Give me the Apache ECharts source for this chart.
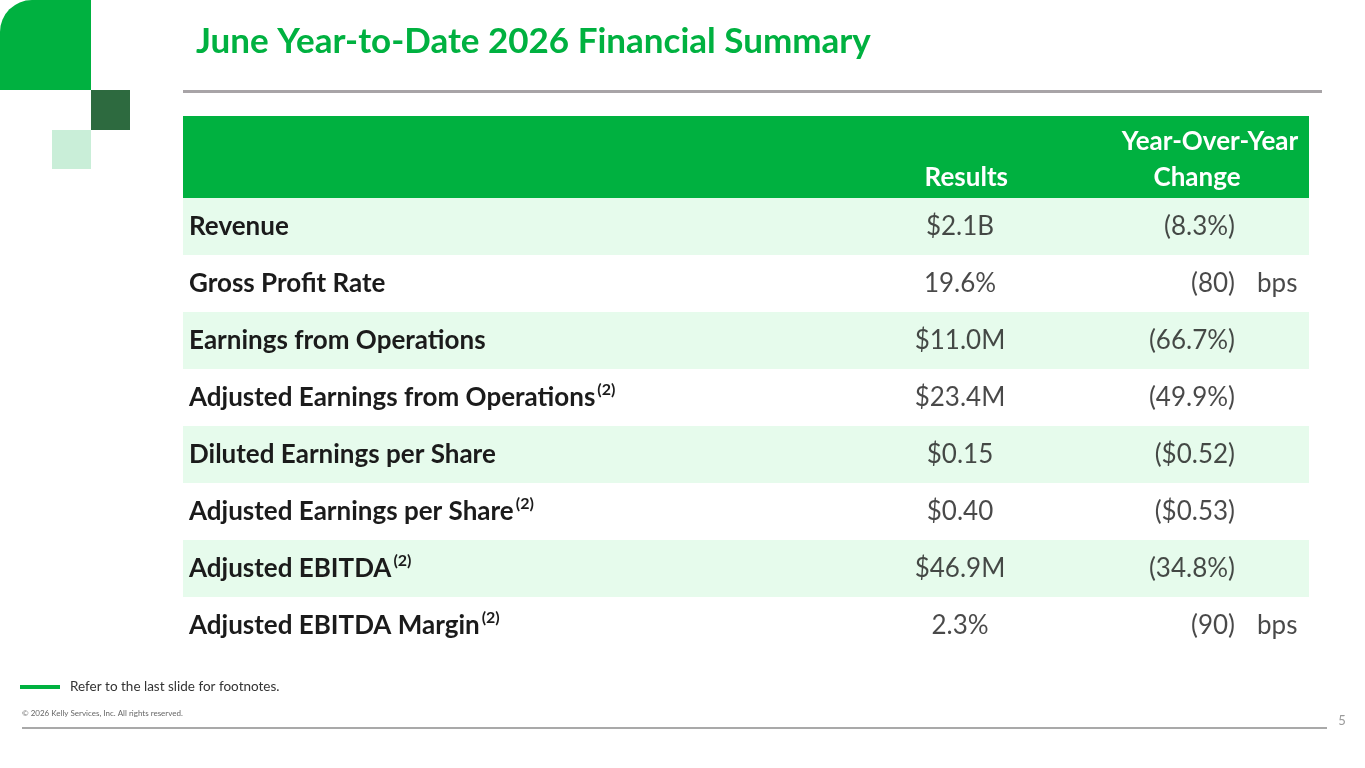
<!DOCTYPE html>
<html>
<head>
<meta charset="utf-8">
<title>June Year-to-Date 2026 Financial Summary</title>
<script src="https://cdn.jsdelivr.net/npm/echarts@6/dist/echarts.min.js"></script>
<style>
html, body { margin: 0; padding: 0; background: #fff; }
#main { width: 1365px; height: 768px; }
</style>
</head>
<body>
<div id="main"></div>
<script>
// table data
var rowNames = ['Revenue', 'Gross Profit Rate', 'Earnings from Operations', 'Adjusted Earnings from Operations',
    'Diluted Earnings per Share', 'Adjusted Earnings per Share', 'Adjusted EBITDA', 'Adjusted EBITDA Margin'];
var rowNotes = ['', '', '', '(2)', '', '(2)', '(2)', '(2)'];
var results = ['$2.1B', '19.6%', '$11.0M', '$23.4M', '$0.15', '$0.40', '$46.9M', '2.3%'];
var changes = ['(8.3%)', '(80)', '(66.7%)', '(49.9%)', '($0.52)', '($0.53)', '(34.8%)', '(90)'];
var units = ['', 'bps', '', '', '', '', '', 'bps'];
var headerResults = 'Results';
var headerChange = ['Year-Over-Year', 'Change'];

var GREEN = '#00b140';
var FONT = 'Lato';
var TEXT = '#1b1b1b';

var myChart = echarts.init(document.getElementById('main'));

// column anchors, in table pixels from the left edge of the table
var RESULT_X = 777;
var CHANGE_X = 1052;
var UNIT_X = 1074;

function cellLabel(pos, fn) {
    return {
        show: true,
        position: pos,
        distance: 0,
        color: TEXT,
        fontFamily: FONT,
        fontSize: 26,
        formatter: fn
    };
}

function headText(x, y, txt, align) {
    return {
        type: 'text', z: 10, x: x, y: y,
        style: { text: txt, fill: '#ffffff', fontFamily: FONT, fontWeight: 'bold', fontSize: 26, align: align, verticalAlign: 'middle' }
    };
}

var option = {
    backgroundColor: '#ffffff',
    animation: false,
    title: {
        text: 'June Year-to-Date 2026 Financial Summary',
        left: 191,
        top: 19,
        textStyle: {
            color: GREEN,
            fontFamily: FONT,
            fontWeight: 'bold',
            fontSize: 35
        }
    },
    grid: {
        left: 183,
        top: 198,
        width: 1126,
        height: 456
    },
    xAxis: {
        type: 'value',
        min: 0,
        max: 1126,
        show: false
    },
    yAxis: {
        type: 'category',
        inverse: true,
        data: rowNames,
        axisLine: { show: false },
        axisTick: { show: false },
        splitLine: { show: false },
        splitArea: {
            show: true,
            areaStyle: { color: ['#e6fbec', '#ffffff'] }
        },
        axisLabel: {
            align: 'left',
            margin: -6,
            formatter: function (v, i) {
                return '{b|' + v + '}' + (rowNotes[i] ? '{s|' + rowNotes[i] + '}' : '');
            },
            rich: {
                b: {
                    color: TEXT,
                    fontFamily: FONT,
                    fontWeight: 'bold',
                    fontSize: 26
                },
                s: {
                    color: TEXT,
                    fontFamily: FONT,
                    fontWeight: 'bold',
                    fontSize: 16,
                    padding: [0, 0, 16, 2]
                }
            }
        }
    },
    series: [{
        name: 'Results',
        type: 'scatter',
        symbolSize: 0,
        silent: true,
        label: cellLabel('inside', function (p) { return results[p.dataIndex]; }),
        data: results.map(function (v, i) { return [RESULT_X, i]; })
    }, {
        name: 'Change',
        type: 'scatter',
        symbolSize: 0,
        silent: true,
        label: cellLabel('left', function (p) { return changes[p.dataIndex]; }),
        data: changes.map(function (v, i) { return [CHANGE_X, i]; })
    }, {
        name: 'Unit',
        type: 'scatter',
        symbolSize: 0,
        silent: true,
        label: cellLabel('right', function (p) { return units[p.dataIndex]; }),
        data: units.map(function (v, i) { return [UNIT_X, i]; })
    }],
    graphic: [
        // corner blocks
        { type: 'rect', shape: { x: 0, y: 0, width: 91, height: 90, r: [32, 0, 0, 0] }, style: { fill: GREEN } },
        { type: 'rect', shape: { x: 91, y: 90, width: 39, height: 40 }, style: { fill: '#2d6a3f' } },
        { type: 'rect', shape: { x: 52, y: 130, width: 39, height: 39 }, style: { fill: '#c9eed8' } },
        // title rule
        { type: 'rect', shape: { x: 183, y: 90, width: 1139, height: 3 }, style: { fill: '#a8a4a7' } },
        // header band
        { type: 'rect', z: 0, shape: { x: 183, y: 116, width: 1126, height: 82 }, style: { fill: GREEN } },
        headText(1008, 178, headerResults, 'right'),
        headText(1210, 142, headerChange[0], 'center'),
        headText(1197, 178, headerChange[1], 'center'),
        // footer
        { type: 'rect', shape: { x: 20, y: 685, width: 40, height: 4 }, style: { fill: GREEN } },
        { type: 'text', x: 70, y: 687, style: { text: 'Refer to the last slide for footnotes.', fill: '#333333', fontFamily: FONT, fontSize: 13.5, verticalAlign: 'middle' } },
        { type: 'text', x: 22, y: 713, style: { text: '\u00a9 2026 Kelly Services, Inc. All rights reserved.', fill: '#666666', fontFamily: FONT, fontSize: 8, verticalAlign: 'middle' } },
        { type: 'rect', shape: { x: 22, y: 727, width: 1305, height: 2 }, style: { fill: '#a9a9a9' } },
        { type: 'text', x: 1342, y: 721, style: { text: '5', fill: '#9a9a9a', fontFamily: FONT, fontSize: 13, align: 'center', verticalAlign: 'middle' } }
    ]
};

myChart.setOption(option);
window.addEventListener('resize', function () { myChart.resize(); });
</script>
</body>
</html>
